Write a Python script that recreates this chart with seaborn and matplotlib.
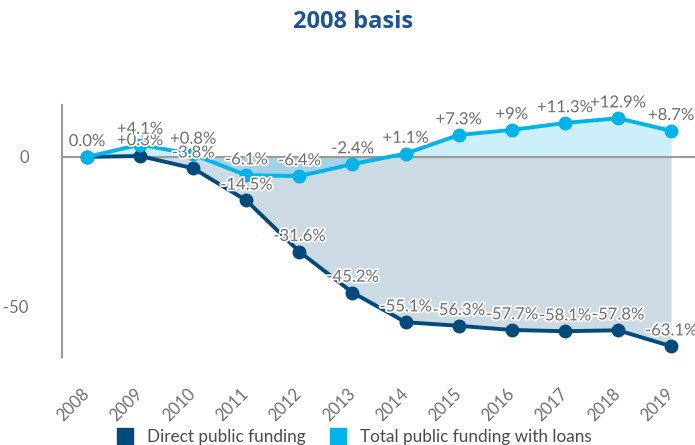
import matplotlib
matplotlib.use("Agg")
import matplotlib.pyplot as plt
import matplotlib.patheffects as pe
from matplotlib.lines import Line2D
import seaborn as sns
import pandas as pd

years = [2008, 2009, 2010, 2011, 2012, 2013, 2014, 2015, 2016, 2017, 2018, 2019]
direct = [0.0, 0.3, -3.8, -14.5, -31.6, -45.2, -55.1, -56.3, -57.7, -58.1, -57.8, -63.1]
total = [0.0, 4.1, 0.8, -6.1, -6.4, -2.4, 1.1, 7.3, 9, 11.3, 12.9, 8.7]
direct_labels = ["", "+0.3%", "-3.8%", "-14.5%", "-31.6%", "-45.2%", "-55.1%",
                 "-56.3%", "-57.7%", "-58.1%", "-57.8%", "-63.1%"]
total_labels = ["0.0%", "+4.1%", "+0.8%", "-6.1%", "-6.4%", "-2.4%", "+1.1%",
                "+7.3%", "+9%", "+11.3%", "+12.9%", "+8.7%"]

dark = "#004a7c"
cyan = "#00b3e8"
grey = "#6f6f6f"

sns.set_style("white")
plt.rcParams["font.family"] = ["Lato", "DejaVu Sans"]

df = pd.DataFrame({"year": years, "direct": direct, "total": total})

fig = plt.figure(figsize=(6.95, 4.45), dpi=100)
ax = fig.add_axes([62 / 695, 88 / 445, 633 / 695, 252 / 445])

# shaded areas between each series and zero
ax.fill_between(df["year"], df["direct"], 0, color=dark, alpha=0.2, lw=0)
ax.fill_between(df["year"], df["total"], 0, color=cyan, alpha=0.2, lw=0)
ax.axhline(0, color="#9a9a9a", lw=1.5, zorder=1)

sns.lineplot(data=df, x="year", y="direct", ax=ax, color=dark, lw=2.8,
             marker="o", markersize=10, markeredgewidth=0, zorder=3)
sns.lineplot(data=df, x="year", y="total", ax=ax, color=cyan, lw=2.8,
             marker="o", markersize=10, markeredgewidth=0, zorder=4)

stroke = [pe.withStroke(linewidth=2.5, foreground="white")]
for x, y, t in zip(years, direct, direct_labels):
    if t:
        ax.text(x, y + 2.6, t, ha="center", va="bottom", fontsize=12,
                color=grey, path_effects=stroke, zorder=5, clip_on=False)
for x, y, t in zip(years, total, total_labels):
    ax.text(x, y + 2.6, t, ha="center", va="bottom", fontsize=12,
            color=grey, path_effects=stroke, zorder=6, clip_on=False)

ax.set_xlim(2007.53, 2019.45)
ax.set_ylim(-66.7, 17.3)
ax.set_xticks(years)
ax.set_xticklabels([str(y) for y in years], rotation=45, ha="right",
                   va="center", rotation_mode="anchor", fontsize=12,
                   color=grey)
ax.set_yticks([0, -50])
ax.set_yticklabels(["0", "-50"], fontsize=12, color=grey)
ax.tick_params(axis="both", length=0)
ax.tick_params(axis="x", pad=25)
ax.tick_params(axis="y", pad=24)
ax.set_xlabel("")
ax.set_ylabel("")
for s in ["top", "right", "bottom"]:
    ax.spines[s].set_visible(False)
ax.spines["left"].set_color("#9a9a9a")
ax.spines["left"].set_linewidth(1.5)

fig.text(0.508, 0.95, "2008 basis", ha="center", va="center", fontsize=17,
         fontweight="bold", color="#1b5597", family=["Open Sans", "DejaVu Sans"])

handles = [
    Line2D([], [], marker="s", ls="", color=dark, markersize=12),
    Line2D([], [], marker="s", ls="", color=cyan, markersize=12),
]
fig.legend(handles, ["Direct public funding", "Total public funding with loans"],
           loc="center", bbox_to_anchor=(0.508, 0.018), ncol=2, frameon=False,
           fontsize=12.3, labelcolor="#4a4a4a", handletextpad=0.7,
           columnspacing=1.3, handlelength=1.2)

fig.savefig("out.png", dpi=100)
